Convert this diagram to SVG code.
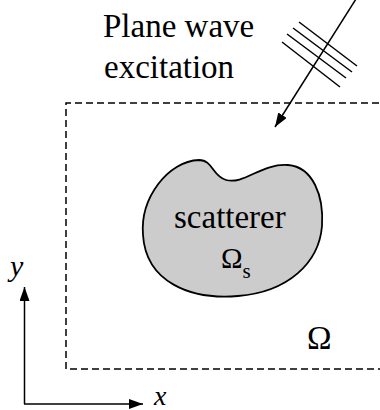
<svg xmlns="http://www.w3.org/2000/svg" width="380" height="410" viewBox="0 0 380 410">
<style>
.t{font-family:"Times New Roman","Liberation Serif","DejaVu Serif",serif;fill:#000}
.ln{stroke:#000;stroke-width:1.5;fill:none}
.dash{stroke:#000;stroke-width:1.5;fill:none;stroke-dasharray:7 4}
</style>
<defs>
<marker id="ah" viewBox="0 0 14 10" refX="14" refY="5" markerWidth="14" markerHeight="10" markerUnits="userSpaceOnUse" orient="auto">
<path d="M0,0 L14,5 L0,10 Z" fill="#000"/>
</marker>
</defs>
<rect width="380" height="410" fill="#fff"/>
<g id="domain">
<path class="dash" d="M390,103 H66 V369 H390"/>
<text class="t" x="307" y="349" font-size="33">Ω</text>
</g>
<g id="scatterer">
<path d="M143,235 C140,198 168,161 199,160 C213,160 212,176 226,180 C244,185 262,163 288,165 C313,167 324,196 322,226 C319,263 288,292 238,296 C190,300 146,282 143,235 Z" fill="#cccccc" stroke="#000" stroke-width="1.8"/>
<text class="t" x="174" y="228" font-size="33">scatterer</text>
<text class="t" x="221" y="268" font-size="29">Ω<tspan font-size="21" dy="10">s</tspan></text>
</g>
<g id="excitation">
<text class="t" x="103" y="37" font-size="33">Plane wave</text>
<text class="t" x="104" y="78" font-size="33">excitation</text>
<line class="ln" x1="299" y1="22" x2="357" y2="66"/>
<line class="ln" x1="293" y1="28" x2="352" y2="72"/>
<line class="ln" x1="287" y1="34" x2="346" y2="78"/>
<line class="ln" x1="282" y1="42" x2="340" y2="87"/>
</g>
<g id="connectors">
<line class="ln" x1="356" y1="-1" x2="275" y2="127" marker-end="url(#ah)"/>
<line class="ln" x1="24.5" y1="404" x2="24.5" y2="287" marker-end="url(#ah)"/>
<line class="ln" x1="24" y1="404" x2="143" y2="404" marker-end="url(#ah)"/>
</g>
<g id="axes-labels">
<text class="t" x="10" y="276" font-size="30" font-style="italic">y</text>
<text class="t" x="154" y="405" font-size="28" font-style="italic">x</text>
</g>
</svg>
